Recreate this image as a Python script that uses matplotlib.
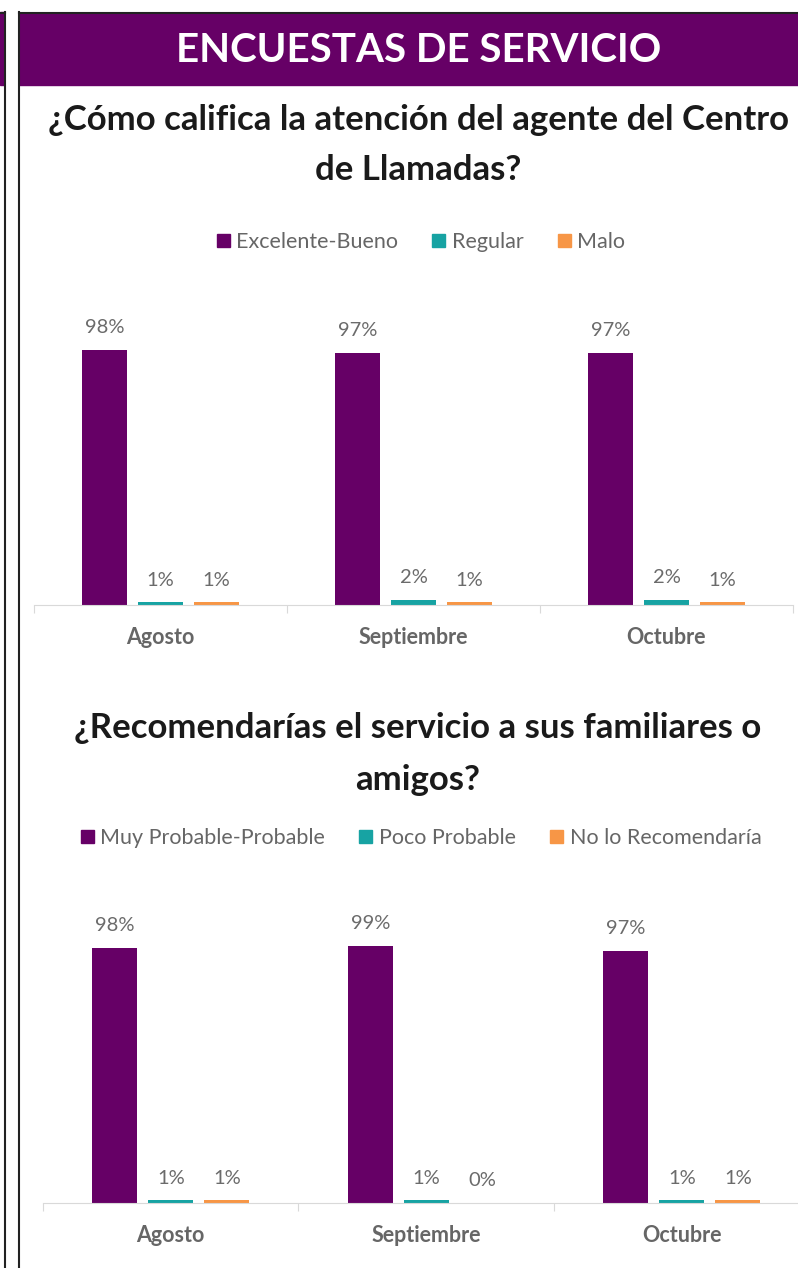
import numpy as np
import matplotlib.pyplot as plt
from matplotlib.patches import Rectangle, Patch
from matplotlib.lines import Line2D

# Data
months = ['Agosto', 'Septiembre', 'Octubre']

q1_title = '¿Cómo califica la atención del agente del Centro\nde Llamadas?'
q1_series = ['Excelente-Bueno', 'Regular', 'Malo']
q1_excelente = [98, 97, 97]
q1_regular = [1, 2, 2]
q1_malo = [1, 1, 1]

q2_title = '¿Recomendarías el servicio a sus familiares o\namigos?'
q2_series = ['Muy Probable-Probable', 'Poco Probable', 'No lo Recomendaría']
q2_muy_probable = [98, 99, 97]
q2_poco_probable = [1, 1, 1]
q2_no_recomendaria = [1, 0, 1]

colors = ['#660066', '#17a3a3', '#f79646']
header = 'ENCUESTAS DE SERVICIO'

W, H = 798, 1268
plt.rcParams['font.family'] = ['Lato', 'DejaVu Sans']
fig = plt.figure(figsize=(W / 100, H / 100), dpi=100)


def fx(px):
    return px / W


def fy(py):
    return 1 - py / H


# Frame and header bar
fig.patches.append(Rectangle((0, fy(85)), fx(4), fy(12) - fy(85), color='#660066',
                             transform=fig.transFigure, zorder=0))
fig.patches.append(Rectangle((fx(19), fy(85)), 1 - fx(19), fy(13) - fy(85), color='#660066',
                             transform=fig.transFigure, zorder=0))
for xl in [4.5, 18.5]:
    fig.lines.append(Line2D([fx(xl), fx(xl)], [fy(12), 0], color='#222222', lw=1.5,
                            transform=fig.transFigure))
fig.lines.append(Line2D([0, fx(4.5)], [fy(12.5), fy(12.5)], color='#222222', lw=1.5,
                        transform=fig.transFigure))
fig.lines.append(Line2D([fx(18.5), 1], [fy(12.5), fy(12.5)], color='#222222', lw=1.5,
                        transform=fig.transFigure))

fig.text(fx(419), fy(50), header, color='white', fontsize=29, fontweight='bold',
         ha='center', va='center')


def draw_chart(left, right, base, title, title_y, spacing, legend_y, series, values):
    ax = fig.add_axes([fx(left), fy(base), fx(right) - fx(left), 2.6 * 100 / H])
    x = np.arange(len(months))
    width = 45 / (right - left) * 3
    step = 56 / (right - left) * 3
    for i, (name, vals) in enumerate(zip(series, values)):
        pos = x + (i - 1) * step
        ax.bar(pos, vals, width, color=colors[i], edgecolor='none', label=name)
        for p, v in zip(pos, vals):
            ax.annotate(f'{v}%', (p, v), xytext=(0, 16), textcoords='offset points',
                        ha='center', va='center', fontsize=14.5, color='#6b6b6b')
    ax.set_xlim(-0.5, 2.5)
    ax.set_ylim(0, 100)
    ax.set_yticks([])
    for s in ['top', 'right', 'left']:
        ax.spines[s].set_visible(False)
    ax.spines['bottom'].set_color('#d9d9d9')
    ax.set_xticks([-0.5, 0.5, 1.5, 2.5])
    ax.set_xticklabels([])
    ax.tick_params(axis='x', which='major', length=6, color='#d9d9d9')
    ax.set_xticks(x, minor=True)
    ax.set_xticklabels(months, minor=True, fontsize=15.5, fontweight='bold', color='#666666')
    ax.tick_params(axis='x', which='minor', length=0, pad=16)
    ax.patch.set_alpha(0)

    fig.text(fx(418), fy(title_y), title, ha='center', va='center', fontsize=25,
             fontweight='bold', color='#1a1a1a', linespacing=spacing)
    handles = [Patch(color=c) for c in colors]
    fig.legend(handles, series, loc='center', bbox_to_anchor=(fx(421), fy(legend_y)),
               ncol=3, frameon=False, fontsize=15.5, handlelength=0.6, handleheight=0.6,
               handletextpad=0.3, columnspacing=1.6, labelcolor='#666666')


draw_chart(34, 793, 605, q1_title, 145, 1.72, 242, q1_series,
           [q1_excelente, q1_regular, q1_malo])
draw_chart(43, 809.5, 1203, q2_title, 754, 1.8, 838, q2_series,
           [q2_muy_probable, q2_poco_probable, q2_no_recomendaria])

fig.savefig('out.png', dpi=100)
